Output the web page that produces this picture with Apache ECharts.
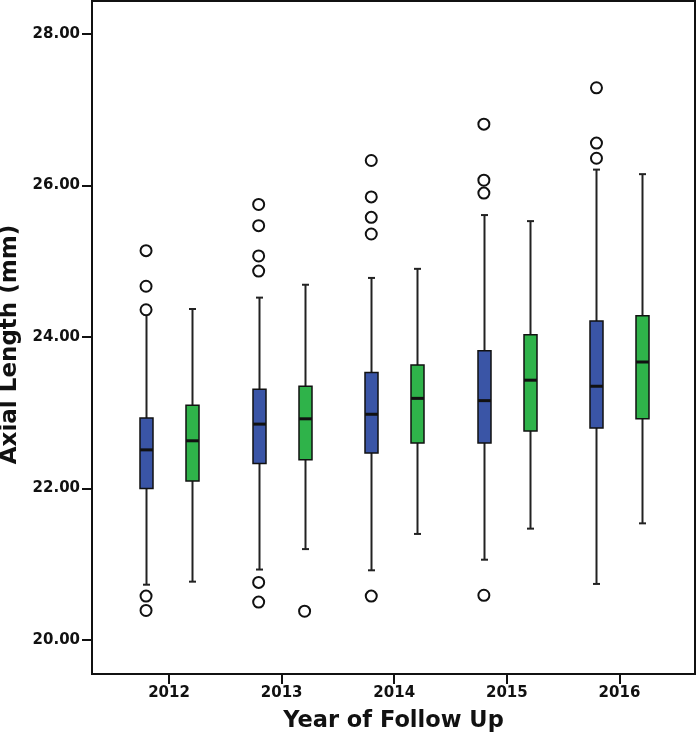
<!DOCTYPE html>
<html><head><meta charset="utf-8">
<script src="https://cdn.jsdelivr.net/npm/echarts@6/dist/echarts.min.js"></script>
<style>html,body{margin:0;padding:0;background:#fff}#c{width:696px;height:742px}</style>
</head><body><div id="c"></div>
<script>
// ---- data ----
const years = [2012, 2013, 2014, 2015, 2016];
const yTicks = [20, 22, 24, 26, 28];

const blueLow    = [20.73, 20.93, 20.92, 21.06, 20.74];
const blueQ1     = [22.00, 22.33, 22.47, 22.60, 22.80];
const blueMedian = [22.51, 22.85, 22.98, 23.16, 23.35];
const blueQ3     = [22.93, 23.31, 23.53, 23.82, 24.21];
const blueHigh   = [24.30, 24.52, 24.78, 25.61, 26.21];

const greenLow    = [20.77, 21.20, 21.40, 21.47, 21.54];
const greenQ1     = [22.10, 22.38, 22.60, 22.76, 22.92];
const greenMedian = [22.63, 22.92, 23.19, 23.43, 23.67];
const greenQ3     = [23.10, 23.35, 23.63, 24.03, 24.28];
const greenHigh   = [24.37, 24.69, 24.90, 25.53, 26.15];

const blueOutliers = [
  [25.14, 24.67, 24.36, 20.58, 20.39],
  [25.75, 25.47, 25.07, 24.87, 20.76, 20.50],
  [26.33, 25.85, 25.58, 25.36, 20.58],
  [26.81, 26.07, 25.90, 20.59],
  [27.29, 26.56, 26.36]
];
const greenOutliers = [
  [],
  [20.38],
  [],
  [],
  []
];

// ---- layout / style ----
const OFFSET = 0.204;      // group offset in years
const BOX_HALF = 6.5;
const CAP_HALF = 3.5;
const BLUE = '#3a55a6';
const GREEN = '#2fb34a';
const INK = '#111';
const FONT = 'DejaVu Sans';

function boxRows(lo, q1, md, q3, hi) {
  return years.map((y, i) => [y, lo[i], q1[i], md[i], q3[i], hi[i]]);
}
function outlierPoints(list, off) {
  const pts = [];
  list.forEach((vals, i) => vals.forEach(v => pts.push([years[i] + off, v])));
  return pts;
}
function boxRender(off, fill) {
  return function (params, api) {
    const x = api.value(0) + off;
    const lo = api.coord([x, api.value(1)]);
    const q1 = api.coord([x, api.value(2)]);
    const md = api.coord([x, api.value(3)]);
    const q3 = api.coord([x, api.value(4)]);
    const hi = api.coord([x, api.value(5)]);
    const cx = Math.round(lo[0]) + 0.5;
    const ws = { stroke: '#222', lineWidth: 2 };
    return {
      type: 'group',
      children: [
        { type: 'line', shape: { x1: cx, y1: hi[1], x2: cx, y2: q3[1] }, style: ws },
        { type: 'line', shape: { x1: cx, y1: q1[1], x2: cx, y2: lo[1] }, style: ws },
        { type: 'line', shape: { x1: cx - CAP_HALF, y1: hi[1], x2: cx + CAP_HALF, y2: hi[1] }, style: ws },
        { type: 'line', shape: { x1: cx - CAP_HALF, y1: lo[1], x2: cx + CAP_HALF, y2: lo[1] }, style: ws },
        { type: 'rect', shape: { x: cx - BOX_HALF, y: q3[1], width: 2 * BOX_HALF, height: q1[1] - q3[1] },
          style: { fill: fill, stroke: INK, lineWidth: 1.5 } },
        { type: 'line', shape: { x1: cx - BOX_HALF, y1: md[1], x2: cx + BOX_HALF, y2: md[1] },
          style: { stroke: INK, lineWidth: 3 } }
      ]
    };
  };
}

const chart = echarts.init(document.getElementById('c'), null, { renderer: 'canvas' });
const axisFont = { fontFamily: FONT, fontWeight: 'bold', fontSize: 15, color: INK };

chart.setOption({
  animation: false,
  backgroundColor: '#fff',
  grid: { left: 92, right: 1, top: 1, bottom: 68, containLabel: false, outerBoundsMode: 'none',
          show: true, borderColor: INK, borderWidth: 2, backgroundColor: 'transparent' },
  xAxis: {
    type: 'value', min: 2011.316, max: 2016.671,
    axisLine: { show: false }, splitLine: { show: false },
    axisTick: { show: true, customValues: years, length: 10, lineStyle: { color: INK, width: 2 } },
    axisLabel: Object.assign({ customValues: years, margin: 12, formatter: v => String(v) }, axisFont),
    name: 'Year of Follow Up', nameLocation: 'middle', nameGap: 36,
    nameTextStyle: { fontFamily: FONT, fontWeight: 'bold', fontSize: 22.5, color: INK }
  },
  yAxis: {
    type: 'value', min: 19.551, max: 28.436,
    axisLine: { show: false }, splitLine: { show: false },
    axisTick: { show: true, customValues: yTicks, length: 10, lineStyle: { color: INK, width: 2 } },
    axisLabel: Object.assign({ customValues: yTicks, margin: 12, formatter: v => v.toFixed(2) }, axisFont),
    name: 'Axial Length (mm)', nameLocation: 'middle', nameRotate: 90, nameGap: 68,
    nameTextStyle: { fontFamily: FONT, fontWeight: 'bold', fontSize: 23, color: INK, padding: [0, 14, 0, 0] }
  },
  series: [
    { type: 'custom', name: 'blue', renderItem: boxRender(-OFFSET, BLUE),
      encode: { x: 0, y: [1, 2, 3, 4, 5] }, data: boxRows(blueLow, blueQ1, blueMedian, blueQ3, blueHigh), z: 2 },
    { type: 'custom', name: 'green', renderItem: boxRender(OFFSET, GREEN),
      encode: { x: 0, y: [1, 2, 3, 4, 5] }, data: boxRows(greenLow, greenQ1, greenMedian, greenQ3, greenHigh), z: 2 },
    { type: 'scatter', name: 'blue outliers', symbol: 'circle', symbolSize: 11, z: 3,
      itemStyle: { color: '#fff', borderColor: INK, borderWidth: 2, opacity: 1 },
      data: outlierPoints(blueOutliers, -OFFSET) },
    { type: 'scatter', name: 'green outliers', symbol: 'circle', symbolSize: 11, z: 3,
      itemStyle: { color: '#fff', borderColor: INK, borderWidth: 2, opacity: 1 },
      data: outlierPoints(greenOutliers, OFFSET) }
  ]
});
</script>
</body></html>
